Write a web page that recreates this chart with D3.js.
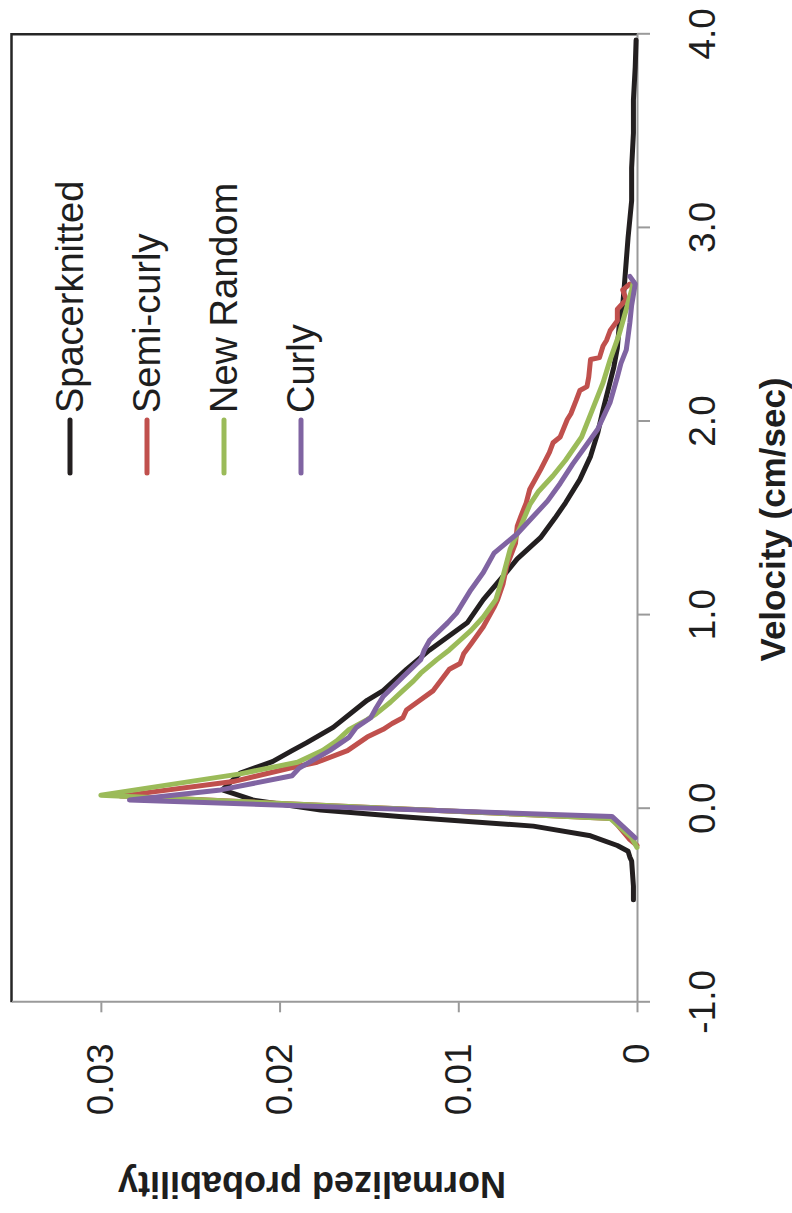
<!DOCTYPE html>
<html>
<head>
<meta charset="utf-8">
<script src="https://cdnjs.cloudflare.com/ajax/libs/d3/7.8.5/d3.min.js"></script>
<style>
  body { margin: 0; background: #fff; }
  svg text { font-family: "Liberation Sans", Arial, sans-serif; fill: #1e1e1e; }
</style>
</head>
<body>
<svg id="chart" width="792" height="1213"></svg>
<script>
// legend / series
var seriesNames = ["Spacerknitted", "Semi-curly", "New Random", "Curly"];
var seriesColors = ["#231f20", "#c0504d", "#9bbb59", "#8064a2"];

// [velocity (cm/sec), normalized probability]
var spacerknitted = [
  [-0.47, 0.0002], [-0.40, 0.0002], [-0.27, 0.0003], [-0.25, 0.0004], [-0.22, 0.0005],
  [-0.19, 0.0011], [-0.14, 0.0026], [-0.09, 0.0058], [-0.04, 0.0133], [-0.007, 0.0177],
  [0.045, 0.0215], [0.097, 0.0232], [0.184, 0.0222], [0.243, 0.0204], [0.30, 0.0193],
  [0.34, 0.0185], [0.42, 0.0170], [0.56, 0.0151], [0.61, 0.0142], [0.72, 0.0129],
  [0.82, 0.0116], [0.96, 0.0095], [1.08, 0.0086], [1.20, 0.0075], [1.29, 0.0067],
  [1.40, 0.0054], [1.50, 0.0046], [1.58, 0.0040], [1.70, 0.0032], [1.82, 0.0026],
  [1.94, 0.0022], [2.06, 0.0019], [2.17, 0.0016], [2.28, 0.0013], [2.38, 0.0011],
  [2.49, 0.0010], [2.60, 0.0008], [2.71, 0.0007], [2.83, 0.0006], [2.95, 0.0005],
  [3.14, 0.0003], [3.31, 0.0003], [3.49, 0.0002], [3.66, 0.0002], [3.83, 0.0001],
  [3.97, 0.00005]
];

var semiCurly = [
  [-0.19, 0.0000], [-0.16, 0.0004], [-0.05, 0.0014], [0.065, 0.0289], [0.14, 0.0226],
  [0.21, 0.0194], [0.24, 0.0179], [0.30, 0.0162], [0.37, 0.0151], [0.41, 0.0142],
  [0.44, 0.0137], [0.47, 0.0131], [0.51, 0.0129], [0.55, 0.0123], [0.61, 0.0114],
  [0.72, 0.0105], [0.75, 0.0099], [0.80, 0.0097], [0.85, 0.0093], [0.94, 0.0086],
  [1.04, 0.0080], [1.08, 0.0078], [1.16, 0.0075], [1.25, 0.0073], [1.37, 0.0068],
  [1.46, 0.0067], [1.51, 0.0065], [1.58, 0.0062], [1.65, 0.0060], [1.75, 0.0054],
  [1.84, 0.0049], [1.89, 0.0047], [1.92, 0.0043], [2.01, 0.0039], [2.04, 0.0037],
  [2.11, 0.0034], [2.16, 0.0032], [2.18, 0.0028], [2.23, 0.0027], [2.32, 0.0026],
  [2.33, 0.0021], [2.39, 0.0019], [2.42, 0.0017], [2.47, 0.0015], [2.52, 0.0011],
  [2.58, 0.0011], [2.63, 0.0006], [2.68, 0.0008], [2.71, 0.0004]
];

var newRandom = [
  [-0.20, 0.0000], [-0.15, 0.0003], [-0.05, 0.0015], [0.07, 0.0300], [0.18, 0.0222],
  [0.24, 0.0190], [0.30, 0.0176], [0.35, 0.0168], [0.41, 0.0161], [0.46, 0.0151],
  [0.49, 0.0146], [0.55, 0.0138], [0.61, 0.0131], [0.66, 0.0125], [0.70, 0.0121],
  [0.77, 0.0112], [0.82, 0.0105], [0.87, 0.0099], [0.92, 0.0093], [0.99, 0.0086],
  [1.08, 0.0079], [1.20, 0.0075], [1.34, 0.0071], [1.46, 0.0065], [1.57, 0.0060],
  [1.64, 0.0055], [1.72, 0.0047], [1.80, 0.0040], [1.92, 0.0031], [2.06, 0.0025],
  [2.20, 0.0019], [2.32, 0.0015], [2.45, 0.0010], [2.58, 0.0006], [2.68, 0.0003],
  [2.72, 0.0002]
];

var curly = [
  [-0.15, 0.0001], [-0.04, 0.0014], [0.045, 0.0284], [0.097, 0.0233], [0.17, 0.0193],
  [0.21, 0.0189], [0.30, 0.0172], [0.37, 0.0161], [0.42, 0.0157], [0.47, 0.0149],
  [0.52, 0.0146], [0.58, 0.0142], [0.68, 0.0131], [0.77, 0.0121], [0.82, 0.0119],
  [0.87, 0.0116], [0.96, 0.0106], [1.01, 0.0101], [1.13, 0.0093], [1.22, 0.0086],
  [1.32, 0.0080], [1.42, 0.0067], [1.50, 0.0059], [1.59, 0.0050], [1.68, 0.0043],
  [1.78, 0.0036], [1.87, 0.0029], [1.96, 0.0022], [2.10, 0.0015], [2.23, 0.0011],
  [2.30, 0.0009], [2.37, 0.0006], [2.44, 0.0005], [2.51, 0.0004], [2.60, 0.0003],
  [2.71, 0.0001], [2.75, 0.0004]
];

var velocityTicks = [-1, 0, 1, 2, 3, 4];
var probabilityTicks = [0, 0.01, 0.02, 0.03];

var seriesData = [spacerknitted, semiCurly, newRandom, curly];

// the whole chart is drawn normally and then turned a quarter turn anticlockwise
var svg = d3.select("#chart"),
    pageH = +svg.attr("height"),
    g = svg.append("g").attr("transform", "translate(0," + pageH + ") rotate(-90)");

// scales (in the un-rotated frame)
var x = d3.scaleLinear().domain([-1, 4]).range([210.7, 1178.7]);
var y = d3.scaleLinear().domain([0, 0.035]).range([637, 11.5]);

// plot area border (the two sides not covered by axes)
g.append("path")
    .attr("d", "M" + x(-1) + "," + y(0.035) + "H" + x(4) + "V" + y(0))
    .attr("fill", "none")
    .attr("stroke", "#262626")
    .attr("stroke-width", 2.5);

// velocity axis
var xAxis = g.append("g")
    .attr("transform", "translate(0," + y(0) + ")")
    .call(d3.axisBottom(x)
        .tickValues(velocityTicks)
        .tickFormat(function(d) { return d.toFixed(1); })
        .tickSize(13)
        .tickSizeOuter(0)
        .tickPadding(39));

// probability axis
var yAxis = g.append("g")
    .attr("transform", "translate(" + x(-1) + ",0)")
    .call(d3.axisLeft(y)
        .tickValues(probabilityTicks)
        .tickFormat(function(d) { return d === 0 ? "0" : d.toFixed(2); })
        .tickSize(10)
        .tickSizeOuter(0)
        .tickPadding(31));

g.selectAll(".domain, .tick line")
    .attr("stroke", "#9a9a9a")
    .attr("stroke-width", 2);
g.selectAll(".tick text")
    .style("font-size", "37px");

// draw the lines
var line = d3.line()
    .x(function(d) { return x(d[0]); })
    .y(function(d) { return y(d[1]); });

seriesData.forEach(function(data, i) {
    g.append("path")
        .datum(data)
        .attr("fill", "none")
        .attr("stroke", seriesColors[i])
        .attr("stroke-linejoin", "round")
        .attr("stroke-linecap", "round")
        .attr("stroke-width", 5)
        .attr("d", line);
});

// legend
var legend = g.append("g");
seriesNames.forEach(function(name, i) {
    var ly = 70 + 77 * i;
    legend.append("line")
        .attr("x1", 740).attr("x2", 793)
        .attr("y1", ly).attr("y2", ly)
        .attr("stroke", seriesColors[i])
        .attr("stroke-width", 5)
        .attr("stroke-linecap", "round");
    legend.append("text")
        .attr("x", 800)
        .attr("y", ly)
        .attr("dy", "0.33em")
        .style("font-size", "38px")
        .text(name);
});

// axis titles
g.append("text")
    .attr("x", 693.5)
    .attr("y", 785)
    .attr("text-anchor", "middle")
    .style("font-size", "35px")
    .style("font-weight", "bold")
    .text("Velocity (cm/sec)");

g.append("text")
    .attr("transform", "translate(41,312) rotate(-90)")
    .attr("text-anchor", "middle")
    .style("font-size", "36px")
    .style("font-weight", "bold")
    .text("Normalized probability");
</script>
</body>
</html>
